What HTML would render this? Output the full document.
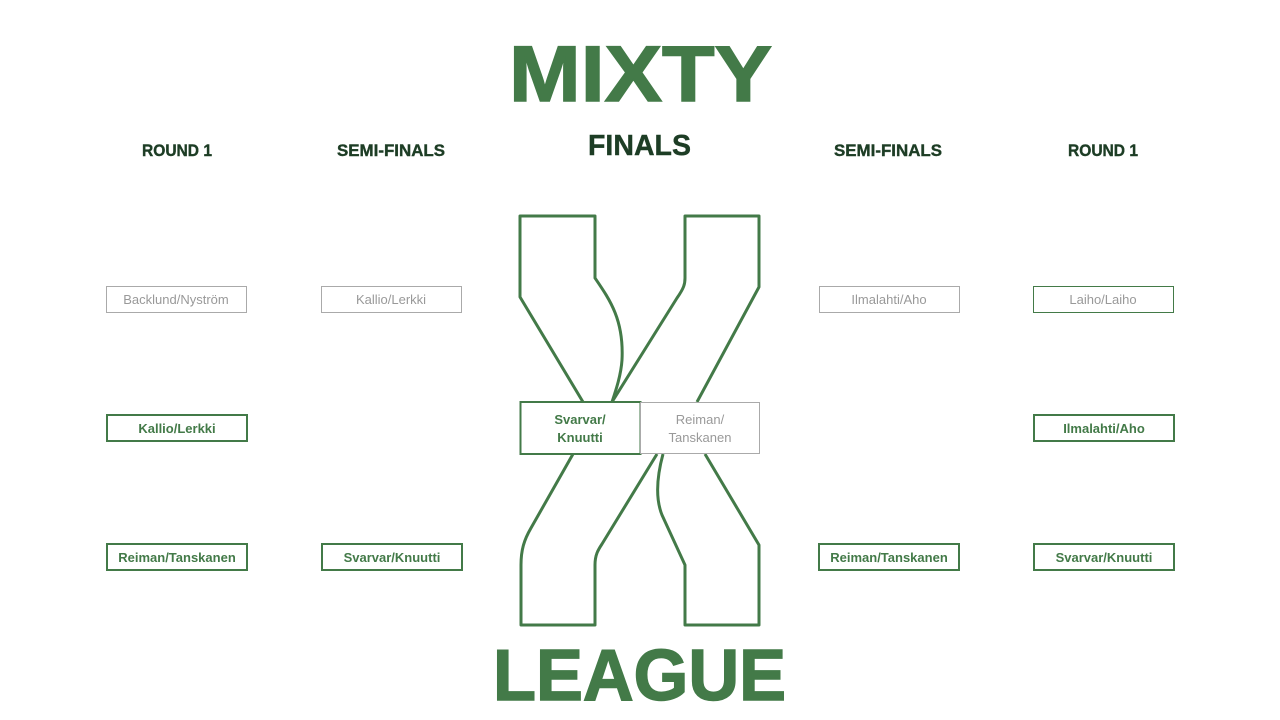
<!DOCTYPE html>
<html><head><meta charset="utf-8"><style>
html,body{margin:0;padding:0;background:#fff;}
svg{display:block;}
text{font-family:"Liberation Sans",Arial,sans-serif;}
</style></head><body>
<svg width="1280" height="720" viewBox="0 0 1280 720" xmlns="http://www.w3.org/2000/svg">
<rect width="1280" height="720" fill="#fff"/>
<text x="509" y="101" font-size="79" font-weight="bold" fill="#437a48" stroke="#437a48" stroke-width="1.5" textLength="263" lengthAdjust="spacingAndGlyphs">MIXTY</text>
<text x="493" y="700" font-size="72" font-weight="bold" fill="#437a48" stroke="#437a48" stroke-width="1.5" textLength="293" lengthAdjust="spacingAndGlyphs">LEAGUE</text>
<g font-weight="bold" fill="#1d3d25" stroke="#1d3d25" stroke-width="0.4">
<text x="588" y="155" font-size="29" textLength="103" lengthAdjust="spacingAndGlyphs">FINALS</text>
<text x="142" y="156" font-size="17" textLength="70" lengthAdjust="spacingAndGlyphs">ROUND 1</text>
<text x="337" y="156" font-size="17" textLength="108" lengthAdjust="spacingAndGlyphs">SEMI-FINALS</text>
<text x="834" y="156" font-size="17" textLength="108" lengthAdjust="spacingAndGlyphs">SEMI-FINALS</text>
<text x="1068" y="156" font-size="17" textLength="70" lengthAdjust="spacingAndGlyphs">ROUND 1</text>
</g>
<g fill="none" stroke="#437a48" stroke-width="3" stroke-linejoin="round">
<path d="M583,402 L520,297 L520,216 L595,216 L595,278 C610,300 624,320 622,360 C621,375 616,390 612,402"/>
<path d="M612,402 L677,298 C684,288 685,284 685,278 L685,216 L759,216 L759,287 L697,402"/>
<path d="M573,454 L531,528 C524,540 521,550 521,565 L521,625 L595,625 L595,565 C595,555 598,550 602,544 L657,454"/>
<path d="M663,454 C656,480 656,500 662,515 L685,565 L685,625 L759,625 L759,545 L705,454"/>
</g>
<rect x="520.5" y="402" width="120" height="52" fill="#fff" stroke="#437a48" stroke-width="2"/>
<rect x="640.5" y="402.5" width="119" height="51" fill="#fff" stroke="#aaa" stroke-width="1"/>
<g font-size="13" text-anchor="middle">
<text x="580" y="424" fill="#437a48" font-weight="bold">Svarvar/</text>
<text x="580" y="442" fill="#437a48" font-weight="bold">Knuutti</text>
<text x="700" y="424" fill="#999">Reiman/</text>
<text x="700" y="442" fill="#999">Tanskanen</text>
</g>
<g fill="#fff">
<rect x="106.5" y="286.5" width="140" height="26" stroke="#aaa" stroke-width="1"/>
<rect x="321.5" y="286.5" width="140" height="26" stroke="#aaa" stroke-width="1"/>
<rect x="819.5" y="286.5" width="140" height="26" stroke="#aaa" stroke-width="1"/>
<rect x="1033.5" y="286.5" width="140" height="26" stroke="#437a48" stroke-width="1"/>
<rect x="107" y="415" width="140" height="26" stroke="#437a48" stroke-width="2"/>
<rect x="1034" y="415" width="140" height="26" stroke="#437a48" stroke-width="2"/>
<rect x="107" y="544" width="140" height="26" stroke="#437a48" stroke-width="2"/>
<rect x="322" y="544" width="140" height="26" stroke="#437a48" stroke-width="2"/>
<rect x="819" y="544" width="140" height="26" stroke="#437a48" stroke-width="2"/>
<rect x="1034" y="544" width="140" height="26" stroke="#437a48" stroke-width="2"/>
</g>
<g font-size="13" text-anchor="middle">
<text x="176" y="304" fill="#999">Backlund/Nyström</text>
<text x="391" y="304" fill="#999">Kallio/Lerkki</text>
<text x="889" y="304" fill="#999">Ilmalahti/Aho</text>
<text x="1103" y="304" fill="#999">Laiho/Laiho</text>
<g fill="#437a48" font-weight="bold">
<text x="177" y="433">Kallio/Lerkki</text>
<text x="1104" y="433">Ilmalahti/Aho</text>
<text x="177" y="562">Reiman/Tanskanen</text>
<text x="392" y="562">Svarvar/Knuutti</text>
<text x="889" y="562">Reiman/Tanskanen</text>
<text x="1104" y="562">Svarvar/Knuutti</text>
</g>
</g>
</svg>
</body></html>
